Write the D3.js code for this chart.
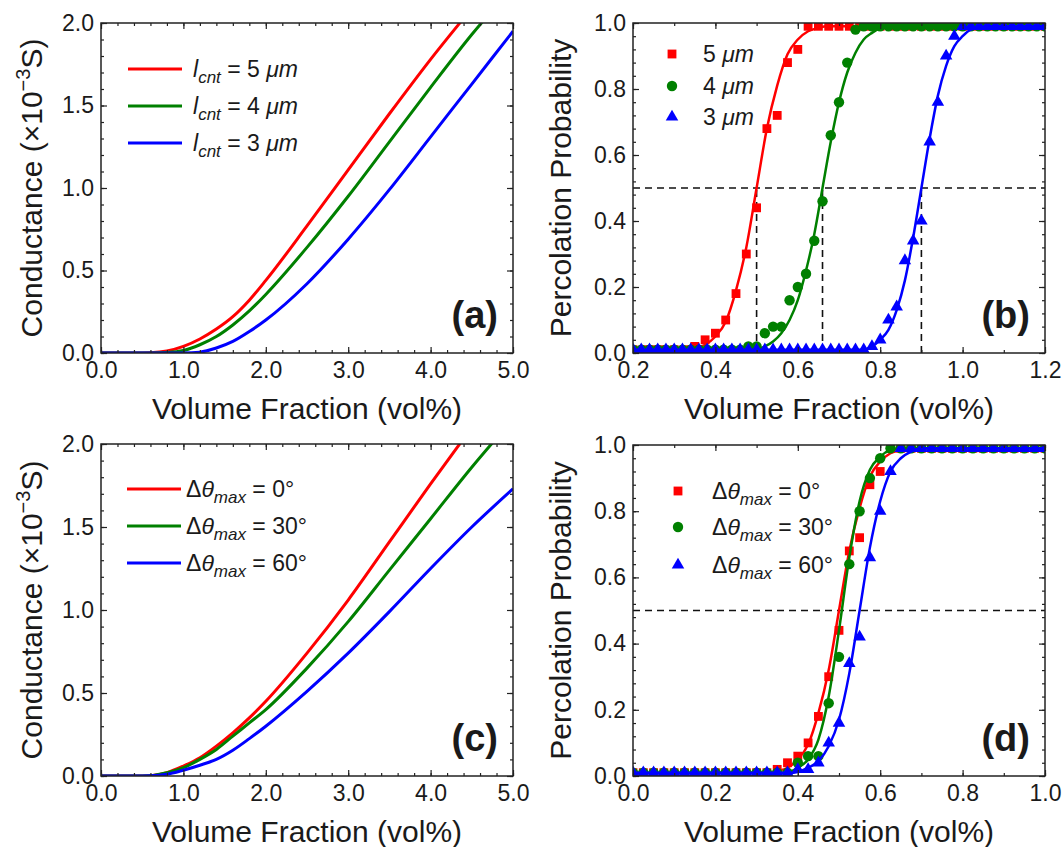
<!DOCTYPE html>
<html>
<head>
<meta charset="utf-8">
<script src="https://cdn.jsdelivr.net/npm/d3@7"></script>
<style>
    body { margin: 0; background: #fff; }
    text { font-family: "Liberation Sans", Arial, sans-serif; fill: #1a1a1a; }
</style>
</head>
<body>
<div id="chart"></div>
<script>
// ---- values ----

// (a) conductance (x1e-3 S) vs volume fraction, three CNT lengths
const aX = [0, 0.2, 0.4, 0.6, 0.8, 1.0, 1.2, 1.4, 1.6, 1.8, 2.0, 2.5, 3.0, 3.5, 4.0, 4.5, 5.0];
const aL5 = [0, 0, 0, 0.002, 0.012, 0.04, 0.085, 0.145, 0.22, 0.32, 0.44, 0.77, 1.11, 1.45, 1.78, 2.09, 2.40];
const aL4 = [0, 0, 0, 0, 0.003, 0.015, 0.05, 0.10, 0.17, 0.255, 0.355, 0.64, 0.95, 1.28, 1.61, 1.93, 2.22];
const aL3 = [0, 0, 0, 0, 0, 0, 0.005, 0.03, 0.07, 0.13, 0.20, 0.42, 0.69, 0.99, 1.31, 1.63, 1.95];
const aNames = ["5", "4", "3"];

// (c) conductance vs volume fraction, three max. misalignment angles
const cX = [0, 0.2, 0.4, 0.6, 0.8, 1.0, 1.2, 1.4, 1.6, 1.8, 2.0, 2.5, 3.0, 3.5, 4.0, 4.5, 5.0];
const cA0 = [0, 0, 0, 0.002, 0.02, 0.06, 0.11, 0.18, 0.26, 0.35, 0.45, 0.74, 1.06, 1.41, 1.76, 2.10, 2.43];
const cA30 = [0, 0, 0, 0.002, 0.02, 0.05, 0.10, 0.16, 0.24, 0.32, 0.40, 0.65, 0.93, 1.24, 1.55, 1.86, 2.15];
const cA60 = [0, 0, 0, 0.001, 0.01, 0.035, 0.065, 0.10, 0.155, 0.225, 0.30, 0.51, 0.74, 0.99, 1.25, 1.50, 1.73];
const cNames = ["0", "30", "60"];

// (b) percolation probability, simulated points
const bX25 = [0.2, 0.225, 0.25, 0.275, 0.3, 0.325, 0.35, 0.375, 0.4, 0.425, 0.45, 0.475, 0.5, 0.525,
    0.55, 0.575, 0.6, 0.625, 0.65, 0.675, 0.7, 0.725, 0.75, 0.775, 0.8, 0.825, 0.85, 0.875, 0.9,
    0.925, 0.95, 0.975, 1.0, 1.025, 1.05, 1.075, 1.1, 1.125, 1.15, 1.175, 1.2];
const bP5 = [0.01, 0.01, 0.01, 0.01, 0.01, 0.01, 0.02, 0.04, 0.06, 0.10, 0.18, 0.30, 0.44, 0.68,
    0.72, 0.88, 0.92, 0.99, 0.99, 0.99, 0.99, 0.99, 0.99, 0.99, 0.99, 0.99, 0.99, 0.99, 0.99,
    0.99, 0.99, 0.99, 0.99, 0.99, 0.99, 0.99, 0.99, 0.99, 0.99, 0.99, 0.99];
const bX20 = [0.2, 0.22, 0.24, 0.26, 0.28, 0.3, 0.32, 0.34, 0.36, 0.38, 0.4, 0.42, 0.44, 0.46, 0.48,
    0.5, 0.52, 0.54, 0.56, 0.58, 0.6, 0.62, 0.64, 0.66, 0.68, 0.7, 0.72, 0.74, 0.76, 0.78, 0.8,
    0.82, 0.84, 0.86, 0.88, 0.9, 0.92, 0.94, 0.96, 0.98, 1.0, 1.02, 1.04, 1.06, 1.08, 1.1, 1.12,
    1.14, 1.16, 1.18, 1.2];
const bP4 = [0.01, 0.01, 0.01, 0.01, 0.01, 0.01, 0.01, 0.01, 0.01, 0.01, 0.01, 0.01, 0.01, 0.01,
    0.02, 0.02, 0.06, 0.08, 0.08, 0.16, 0.20, 0.24, 0.34, 0.46, 0.66, 0.76, 0.88, 0.98,
    0.99, 0.99, 0.99, 0.99, 0.99, 0.99, 0.99, 0.99, 0.99, 0.99, 0.99, 0.99, 0.99, 0.99, 0.99,
    0.99, 0.99, 0.99, 0.99, 0.99, 0.99, 0.99, 0.99];
const bP3 = [0.01, 0.01, 0.01, 0.01, 0.01, 0.01, 0.01, 0.01, 0.01, 0.01, 0.01, 0.01, 0.01, 0.01,
    0.01, 0.01, 0.01, 0.01, 0.01, 0.01, 0.01, 0.01, 0.01, 0.01, 0.01, 0.01, 0.01, 0.01, 0.01,
    0.02, 0.04, 0.10, 0.14, 0.28, 0.34, 0.40, 0.64, 0.76, 0.90, 0.96,
    0.99, 0.99, 0.99, 0.99, 0.99, 0.99, 0.99, 0.99, 0.99, 0.99, 0.99];
const bNames = ["5", "4", "3"];
const bThresholds = [0.5, 0.66, 0.9];

// (b) fitted curves
const fitB5x = [0.2, 0.33, 0.35, 0.375, 0.4, 0.425, 0.45, 0.475, 0.5, 0.525, 0.55, 0.575, 0.6, 0.625, 0.65, 0.67, 1.2];
const fitB5y = [0.01, 0.01, 0.015, 0.025, 0.05, 0.095, 0.19, 0.32, 0.50, 0.68, 0.81, 0.905, 0.95, 0.975, 0.985, 0.99, 0.99];
const fitB4x = [0.2, 0.5, 0.52, 0.54, 0.56, 0.58, 0.6, 0.62, 0.64, 0.66, 0.68, 0.7, 0.72, 0.74, 0.76, 0.78, 0.82, 1.2];
const fitB4y = [0.01, 0.01, 0.02, 0.035, 0.06, 0.10, 0.16, 0.25, 0.36, 0.50, 0.64, 0.76, 0.85, 0.91, 0.95, 0.97, 0.99, 0.99];
const fitB3x = [0.2, 0.76, 0.78, 0.8, 0.82, 0.84, 0.86, 0.88, 0.9, 0.92, 0.94, 0.96, 0.98, 1.0, 1.02, 1.06, 1.2];
const fitB3y = [0.01, 0.01, 0.02, 0.04, 0.07, 0.13, 0.22, 0.35, 0.50, 0.65, 0.78, 0.87, 0.93, 0.96, 0.98, 0.99, 0.99];

// (d) percolation probability, simulated points
const dX = [0, 0.025, 0.05, 0.075, 0.1, 0.125, 0.15, 0.175, 0.2, 0.225, 0.25, 0.275, 0.3, 0.325,
    0.35, 0.375, 0.4, 0.425, 0.45, 0.475, 0.5, 0.525, 0.55, 0.575, 0.6, 0.625, 0.65, 0.675, 0.7,
    0.725, 0.75, 0.775, 0.8, 0.825, 0.85, 0.875, 0.9, 0.925, 0.95, 0.975, 1.0];
const dP0 = [0.01, 0.01, 0.01, 0.01, 0.01, 0.01, 0.01, 0.01, 0.01, 0.01, 0.01, 0.01, 0.01, 0.01,
    0.02, 0.04, 0.06, 0.10, 0.18, 0.30, 0.44, 0.68, 0.72, 0.88, 0.92,
    0.99, 0.99, 0.99, 0.99, 0.99, 0.99, 0.99, 0.99, 0.99, 0.99, 0.99, 0.99, 0.99, 0.99, 0.99, 0.99];
const dP30 = [0.01, 0.01, 0.01, 0.01, 0.01, 0.01, 0.01, 0.01, 0.01, 0.01, 0.01, 0.01, 0.01, 0.01,
    0.01, 0.01, 0.04, 0.06, 0.06, 0.22, 0.36, 0.64, 0.80, 0.90, 0.96,
    0.99, 0.99, 0.99, 0.99, 0.99, 0.99, 0.99, 0.99, 0.99, 0.99, 0.99, 0.99, 0.99, 0.99, 0.99, 0.99];
const dP60 = [0.01, 0.01, 0.01, 0.01, 0.01, 0.01, 0.01, 0.01, 0.01, 0.01, 0.01, 0.01, 0.01, 0.01,
    0.01, 0.01, 0.02, 0.02, 0.04, 0.10, 0.16, 0.34, 0.42, 0.66, 0.80, 0.92,
    0.99, 0.99, 0.99, 0.99, 0.99, 0.99, 0.99, 0.99, 0.99, 0.99, 0.99, 0.99, 0.99, 0.99, 0.99];
const dNames = ["0", "30", "60"];

// (d) fitted curves (0 deg uses the same fit as 5 um in (b))
const fitD30x = [0, 0.37, 0.4, 0.425, 0.45, 0.475, 0.5, 0.525, 0.55, 0.575, 0.6, 0.625, 0.65, 1.0];
const fitD30y = [0.01, 0.01, 0.025, 0.05, 0.11, 0.24, 0.44, 0.66, 0.83, 0.925, 0.965, 0.985, 0.99, 0.99];
const fitD60x = [0, 0.39, 0.425, 0.45, 0.475, 0.5, 0.525, 0.55, 0.575, 0.6, 0.625, 0.65, 0.675, 0.7, 1.0];
const fitD60y = [0.01, 0.01, 0.025, 0.045, 0.09, 0.17, 0.31, 0.50, 0.69, 0.83, 0.92, 0.96, 0.98, 0.99, 0.99];

// tick labels
const condXTicks = [0, 1, 2, 3, 4, 5];
const condXLabels = ["0.0", "1.0", "2.0", "3.0", "4.0", "5.0"];
const condYTicks = [0, 0.5, 1, 1.5, 2];
const condYLabels = ["0.0", "0.5", "1.0", "1.5", "2.0"];
const bXTicks = [0.2, 0.4, 0.6, 0.8, 1.0, 1.2];
const bXLabels = ["0.2", "0.4", "0.6", "0.8", "1.0", "1.2"];
const dXTicks = [0, 0.2, 0.4, 0.6, 0.8, 1.0];
const dXLabels = ["0.0", "0.2", "0.4", "0.6", "0.8", "1.0"];
const probYTicks = [0, 0.2, 0.4, 0.6, 0.8, 1.0];
const probYLabels = ["0.0", "0.2", "0.4", "0.6", "0.8", "1.0"];

// ---- drawing ----
const width = 1064;
const height = 847;
const RED = "#ff0000", GREEN = "#008000", BLUE = "#0000ff";
const INK = "#222";

var svg = d3.select("#chart").append("svg")
    .attr("width", width).attr("height", height);
var defs = svg.append("defs");

function minorValues(dom, step) {
    var n = Math.round((dom[1] - dom[0]) / step);
    return d3.range(n + 1).map(function (i) { return dom[0] + i * step; });
}

function makePanel(o) {
    var x = d3.scaleLinear().domain(o.xDom).range([o.left, o.right]);
    var y = d3.scaleLinear().domain(o.yDom).range([o.bottom, o.top]);
    var g = svg.append("g");

    defs.append("clipPath").attr("id", o.id)
        .append("rect")
        .attr("x", o.left).attr("y", o.top)
        .attr("width", o.right - o.left).attr("height", o.bottom - o.top);
    var plot = g.append("g").attr("clip-path", "url(#" + o.id + ")");

    var xMinor = minorValues(o.xDom, o.xMinor);
    var yMinor = minorValues(o.yDom, o.yMinor);

    function noDomain(s) { s.select(".domain").remove(); }

    // ticks on all four sides, pointing in
    var axes = g.append("g").attr("color", INK);
    axes.append("g").attr("transform", "translate(0," + o.bottom + ")")
        .call(d3.axisBottom(x).tickValues(xMinor).tickSize(-3).tickFormat("")).call(noDomain);
    axes.append("g").attr("transform", "translate(0," + o.top + ")")
        .call(d3.axisTop(x).tickValues(xMinor).tickSize(-3).tickFormat("")).call(noDomain);
    axes.append("g").attr("transform", "translate(" + o.left + ",0)")
        .call(d3.axisLeft(y).tickValues(yMinor).tickSize(-3).tickFormat("")).call(noDomain);
    axes.append("g").attr("transform", "translate(" + o.right + ",0)")
        .call(d3.axisRight(y).tickValues(yMinor).tickSize(-3).tickFormat("")).call(noDomain);

    axes.append("g").attr("transform", "translate(0," + o.bottom + ")")
        .call(d3.axisBottom(x).tickValues(o.xTicks).tickSize(-6).tickPadding(9)
            .tickFormat(function (d, i) { return o.xLabels[i]; }))
        .call(noDomain)
        .attr("font-size", 23).attr("font-family", null);
    axes.append("g").attr("transform", "translate(0," + o.top + ")")
        .call(d3.axisTop(x).tickValues(o.xTicks).tickSize(-6).tickFormat("")).call(noDomain);
    axes.append("g").attr("transform", "translate(" + o.left + ",0)")
        .call(d3.axisLeft(y).tickValues(o.yTicks).tickSize(-6).tickPadding(7)
            .tickFormat(function (d, i) { return o.yLabels[i]; }))
        .call(noDomain)
        .attr("font-size", 23).attr("font-family", null);
    axes.append("g").attr("transform", "translate(" + o.right + ",0)")
        .call(d3.axisRight(y).tickValues(o.yTicks).tickSize(-6).tickFormat("")).call(noDomain);
    axes.selectAll("line").attr("stroke-width", 1.2);

    // frame
    g.append("rect")
        .attr("x", o.left).attr("y", o.top)
        .attr("width", o.right - o.left).attr("height", o.bottom - o.top)
        .attr("fill", "none").attr("stroke", INK).attr("stroke-width", 1.5);

    // axis titles
    g.append("text")
        .attr("x", (o.left + o.right) / 2).attr("y", o.bottom + 66)
        .attr("text-anchor", "middle").attr("font-size", 30)
        .text("Volume Fraction (vol%)");

    var yt = g.append("text")
        .attr("transform", "translate(" + o.ytitleX + "," + (o.top + o.bottom) / 2 + ") rotate(-90)")
        .attr("text-anchor", "middle").attr("font-size", 30);
    if (o.conductance) {
        yt.append("tspan").text("Conductance (\u00d710");
        yt.append("tspan").attr("font-size", 20).attr("dy", -12).text("\u22123");
        yt.append("tspan").attr("dy", 12).text("S)");
    } else {
        yt.text("Percolation Probability");
    }

    // panel tag
    g.append("text")
        .attr("x", o.right - 15).attr("y", o.bottom - 25)
        .attr("text-anchor", "end").attr("font-size", 38).attr("font-weight", "bold")
        .text(o.tag);

    return {g: g, plot: plot, x: x, y: y};
}

function drawLine(p, xs, ys, color, w) {
    var line = d3.line()
        .x(function (d, i) { return p.x(xs[i]); })
        .y(function (d) { return p.y(d); })
        .curve(d3.curveMonotoneX);
    p.plot.append("path").datum(ys)
        .attr("d", line)
        .attr("fill", "none").attr("stroke", color).attr("stroke-width", w)
        .attr("stroke-linejoin", "round");
}

function symbolFor(type) {
    if (type === "square") return d3.symbol().type(d3.symbolSquare).size(78);
    if (type === "circle") return d3.symbol().type(d3.symbolCircle).size(85);
    return d3.symbol().type(d3.symbolTriangle).size(68);
}

function drawMarks(p, xs, ys, color, type) {
    p.plot.append("g").selectAll("path")
        .data(ys)
        .enter()
        .append("path")
        .attr("transform", function (d, i) {
            return "translate(" + p.x(xs[i]) + "," + p.y(d) + ")";
        })
        .attr("d", symbolFor(type))
        .attr("fill", color);
}

function dashed(p, x1, y1, x2, y2) {
    p.plot.append("line")
        .attr("x1", p.x(x1)).attr("y1", p.y(y1))
        .attr("x2", p.x(x2)).attr("y2", p.y(y2))
        .attr("stroke", "#111").attr("stroke-width", 1.6)
        .attr("stroke-dasharray", "7,5");
}

// legend label: "l_cnt = 5 um" or "dtheta_max = 0 deg"
function legendLabel(sel, kind, val) {
    if (kind === "len") {
        sel.append("tspan").attr("font-style", "italic").text("l");
        sel.append("tspan").attr("font-style", "italic").attr("font-size", 17).attr("dy", 6).text("cnt");
        sel.append("tspan").attr("dy", -6).text(" = " + val + " ");
        sel.append("tspan").attr("font-style", "italic").text("\u03bcm");
    } else if (kind === "num") {
        sel.append("tspan").text(val + " ");
        sel.append("tspan").attr("font-style", "italic").text("\u03bcm");
    } else {
        sel.append("tspan").text("\u0394");
        sel.append("tspan").attr("font-style", "italic").text("\u03b8");
        sel.append("tspan").attr("font-style", "italic").attr("font-size", 17).attr("dy", 6).text("max");
        sel.append("tspan").attr("dy", -6).text(" = " + val + "\u00b0");
    }
}

function lineLegend(p, x0, ys, colors, kind, names, tx) {
    names.forEach(function (n, i) {
        p.g.append("line")
            .attr("x1", x0).attr("x2", x0 + 54)
            .attr("y1", ys[i]).attr("y2", ys[i])
            .attr("stroke", colors[i]).attr("stroke-width", 3);
        var t = p.g.append("text").attr("x", tx).attr("y", ys[i] + 8).attr("font-size", 23);
        legendLabel(t, kind, n);
    });
}

function markLegend(p, mx, ys, colors, types, kind, names, tx) {
    names.forEach(function (n, i) {
        p.g.append("path")
            .attr("transform", "translate(" + mx + "," + ys[i] + ")")
            .attr("d", symbolFor(types[i]))
            .attr("fill", colors[i]);
        var t = p.g.append("text").attr("x", tx).attr("y", ys[i] + 8).attr("font-size", 23);
        legendLabel(t, kind, n);
    });
}

// (a)
var pa = makePanel({
    id: "clipA", left: 101, right: 513, top: 23, bottom: 353,
    xDom: [0, 5], yDom: [0, 2], xMinor: 0.2, yMinor: 0.1,
    xTicks: condXTicks, xLabels: condXLabels, yTicks: condYTicks, yLabels: condYLabels,
    ytitleX: 42, conductance: true, tag: "(a)"
});
drawLine(pa, aX, aL5, RED, 3);
drawLine(pa, aX, aL4, GREEN, 3);
drawLine(pa, aX, aL3, BLUE, 3);
lineLegend(pa, 128, [69, 106, 143], [RED, GREEN, BLUE], "len", aNames, 193);

// (b)
var pb = makePanel({
    id: "clipB", left: 633, right: 1045, top: 23, bottom: 353,
    xDom: [0.2, 1.2], yDom: [0, 1], xMinor: 0.1, yMinor: 0.04,
    xTicks: bXTicks, xLabels: bXLabels, yTicks: probYTicks, yLabels: probYLabels,
    ytitleX: 571, conductance: false, tag: "(b)"
});
dashed(pb, 0.2, 0.5, 1.2, 0.5);
bThresholds.forEach(function (t) { dashed(pb, t, 0, t, 0.5); });
drawLine(pb, fitB5x, fitB5y, RED, 2.5);
drawMarks(pb, bX25, bP5, RED, "square");
drawLine(pb, fitB4x, fitB4y, GREEN, 2.5);
drawMarks(pb, bX20, bP4, GREEN, "circle");
drawLine(pb, fitB3x, fitB3y, BLUE, 2.5);
drawMarks(pb, bX20, bP3, BLUE, "triangle");
markLegend(pb, 672, [54, 86, 117], [RED, GREEN, BLUE], ["square", "circle", "triangle"], "num", bNames, 703);

// (c)
var pc = makePanel({
    id: "clipC", left: 101, right: 513, top: 444, bottom: 776,
    xDom: [0, 5], yDom: [0, 2], xMinor: 0.2, yMinor: 0.1,
    xTicks: condXTicks, xLabels: condXLabels, yTicks: condYTicks, yLabels: condYLabels,
    ytitleX: 42, conductance: true, tag: "(c)"
});
drawLine(pc, cX, cA0, RED, 3);
drawLine(pc, cX, cA30, GREEN, 3);
drawLine(pc, cX, cA60, BLUE, 3);
lineLegend(pc, 127, [489, 526, 563], [RED, GREEN, BLUE], "ang", cNames, 186);

// (d)
var pd = makePanel({
    id: "clipD", left: 633, right: 1045, top: 445, bottom: 776,
    xDom: [0, 1], yDom: [0, 1], xMinor: 0.1, yMinor: 0.04,
    xTicks: dXTicks, xLabels: dXLabels, yTicks: probYTicks, yLabels: probYLabels,
    ytitleX: 571, conductance: false, tag: "(d)"
});
dashed(pd, 0, 0.5, 1, 0.5);
drawLine(pd, fitB5x, fitB5y, RED, 2.5);
drawMarks(pd, dX, dP0, RED, "square");
drawLine(pd, fitD30x, fitD30y, GREEN, 2.5);
drawMarks(pd, dX, dP30, GREEN, "circle");
drawLine(pd, fitD60x, fitD60y, BLUE, 2.5);
drawMarks(pd, dX, dP60, BLUE, "triangle");
markLegend(pd, 678, [491, 527, 565], [RED, GREEN, BLUE], ["square", "circle", "triangle"], "ang", dNames, 712);
</script>
</body>
</html>
